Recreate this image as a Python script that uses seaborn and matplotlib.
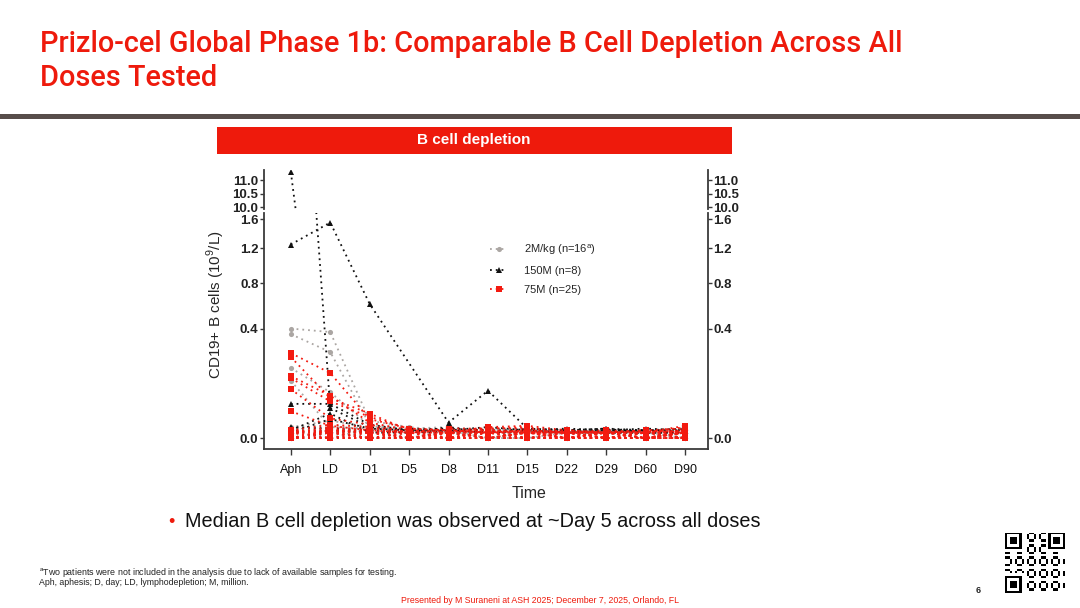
import numpy as np
import pandas as pd
import matplotlib
matplotlib.use('Agg')
import matplotlib.pyplot as plt
from matplotlib.lines import Line2D
from matplotlib.patches import Rectangle
import seaborn as sns

nan = np.nan

# time points on the x axis
timepoints = ['Aph', 'LD', 'D1', 'D5', 'D8', 'D11', 'D15', 'D22', 'D29', 'D60', 'D90']

# CD19+ B cells (10^9/L), one row per patient
dose_2mkg = [
    [0.400, 0.375, 0.010, 0.004, 0.002, 0.003, 0.002, 0.001, 0.002, 0.001, 0.002],
    [0.360, 0.247, 0.006, 0.003, 0.004, 0.002, 0.001, 0.002, 0.001, 0.002, 0.001],
    [0.164, 0.070, 0.005, 0.002, 0.001, 0.002, 0.003, 0.001, 0.003, 0.001, 0.002],
    [0.110, 0.004, 0.003, 0.002, 0.002, 0.001, 0.002, 0.001, 0.001, 0.002, 0.003],
    [0.004, 0.010, 0.004, 0.003, 0.001, 0.002, 0.001, 0.002, 0.002, 0.001, 0.001],
    [0.002, 0.004, 0.001, 0.001, 0.000, 0.001, 0.002, 0.001, 0.001, 0.000, 0.001],
    [0.000, 0.002, 0.002, 0.000, 0.001, 0.000, 0.001, 0.002, 0.001, 0.001, 0.000],
    [0.001, 0.001, 0.000, 0.001, 0.002, 0.001, 0.000, 0.001, 0.000, 0.001, 0.002],
    [0.000, 0.000, 0.001, 0.002, 0.001, 0.000, 0.001, 0.000, 0.002, 0.001, 0.001],
    [0.003, 0.006, 0.002, 0.001, 0.000, 0.002, 0.001, 0.001, 0.001, 0.002, 0.000],
    [0.001, 0.003, 0.000, 0.000, 0.001, 0.001, 0.002, 0.000, 0.001, 0.000, 0.001],
    [0.000, 0.001, 0.001, 0.000, 0.000, 0.000, 0.000, 0.001, 0.000, 0.001, 0.000],
    [0.002, 0.000, 0.003, 0.001, 0.001, 0.000, 0.001, 0.002, 0.001, 0.000, 0.001],
    [0.001, 0.002, 0.001, 0.002, 0.000, 0.001, 0.000, 0.000, 0.001, 0.001, 0.002],
    [0.000, 0.001, 0.000, 0.001, 0.001, 0.002, 0.001, 0.001, 0.000, 0.000, 0.001],
    [0.001, 0.000, 0.002, 0.000, 0.002, 0.000, 0.000, 0.001, 0.002, 0.001, 0.000],
]
dose_150m = [
    [1.250, 1.550, 0.600, nan, 0.008, 0.075, 0.003, 0.002, 0.003, 0.002, 0.002],
    [11.30, 0.030, 0.004, 0.002, 0.003, 0.002, 0.002, 0.001, 0.002, 0.003, 0.002],
    [0.039, 0.039, 0.006, 0.002, 0.001, 0.001, 0.003, 0.002, 0.001, 0.001, 0.001],
    [0.004, 0.003, 0.002, 0.001, 0.004, 0.001, 0.001, 0.002, 0.003, 0.001, 0.001],
    [0.001, 0.012, 0.003, 0.002, 0.002, 0.004, 0.002, 0.001, 0.001, 0.002, 0.003],
    [0.001, 0.002, 0.001, 0.003, 0.002, 0.001, 0.002, 0.003, 0.002, 0.001, nan],
    [0.000, 0.001, 0.002, 0.001, 0.001, 0.002, 0.001, 0.001, 0.001, 0.001, 0.001],
    [0.002, 0.020, 0.001, 0.001, 0.002, 0.001, 0.001, 0.001, 0.002, 0.002, 0.001],
]
dose_75m = [
    [0.241, 0.141, 0.012, 0.003, 0.002, 0.001, 0.002, 0.001, 0.001, 0.002, 0.003],
    [0.219, 0.053, 0.020, 0.002, 0.001, 0.002, 0.001, 0.002, 0.001, 0.001, 0.002],
    [0.128, 0.060, 0.008, 0.002, 0.001, 0.004, 0.005, 0.002, 0.001, 0.001, 0.001],
    [0.120, 0.045, 0.015, 0.003, 0.002, 0.002, 0.001, 0.001, 0.002, 0.001, 0.004],
    [0.080, 0.013, 0.006, 0.001, 0.001, 0.001, 0.002, 0.001, 0.001, 0.002, 0.001],
    [0.024, 0.005, 0.002, 0.001, 0.002, 0.001, 0.001, 0.001, 0.001, 0.001, 0.001],
    [0.001, 0.004, 0.002, 0.000, 0.001, 0.003, 0.004, 0.001, 0.000, 0.001, 0.002],
    [0.000, 0.002, 0.001, 0.001, 0.000, 0.001, 0.001, 0.000, 0.001, 0.000, 0.001],
    [0.002, 0.006, 0.004, 0.001, 0.003, 0.003, 0.003, 0.001, 0.001, 0.001, 0.005],
    [0.000, 0.001, 0.000, 0.000, 0.001, 0.000, 0.000, 0.001, 0.000, 0.001, 0.000],
    [0.001, 0.003, 0.001, 0.002, 0.000, 0.001, 0.002, 0.000, 0.001, 0.000, 0.001],
    [0.000, 0.000, 0.001, 0.000, 0.001, 0.000, 0.000, 0.000, 0.000, 0.000, 0.000],
    [0.001, 0.002, 0.002, 0.001, 0.000, 0.002, 0.001, 0.001, 0.000, 0.001, 0.001],
    [0.002, 0.001, 0.000, 0.000, 0.001, 0.001, 0.000, 0.000, 0.001, 0.000, 0.000],
    [0.000, 0.001, 0.001, 0.001, 0.000, 0.000, 0.001, 0.001, 0.000, 0.001, 0.001],
    [0.001, 0.000, 0.000, 0.000, 0.000, 0.001, 0.000, 0.000, 0.000, 0.000, 0.002],
    [0.000, 0.002, 0.001, 0.000, 0.001, 0.000, 0.001, 0.000, 0.001, 0.000, 0.000],
    [0.001, 0.001, 0.003, 0.001, 0.000, 0.000, 0.000, 0.001, 0.000, 0.000, 0.001],
    [0.000, 0.000, 0.000, 0.001, 0.000, 0.001, 0.000, 0.000, 0.000, 0.001, 0.000],
    [0.002, 0.001, 0.001, 0.000, 0.001, 0.000, 0.001, 0.000, 0.001, 0.000, 0.001],
    [0.000, 0.001, 0.000, 0.000, 0.000, 0.000, 0.000, 0.001, 0.000, 0.000, 0.000],
    [0.001, 0.000, 0.001, 0.000, 0.000, 0.001, 0.000, 0.000, 0.000, 0.000, 0.001],
    [0.000, 0.000, 0.000, 0.000, 0.001, 0.000, 0.000, 0.000, 0.000, 0.000, 0.000],
    [0.001, 0.001, 0.000, 0.001, 0.000, 0.000, 0.000, 0.000, 0.001, 0.001, 0.000],
    [0.000, 0.000, 0.000, 0.000, 0.000, 0.000, 0.001, 0.000, 0.000, 0.000, 0.001],
]

dose_names = ['2M/kg', '150M', '75M']
legend_labels = [r'2M/kg (n=16$^{\mathregular{a}}$)', '150M (n=8)', '75M (n=25)']
yticks_low = [0.0, 0.4, 0.8, 1.2, 1.6]
yticks_high = [10.0, 10.5, 11.0]

W, H = 1080, 608
RED = '#EE1A0C'


def fx(x):
    return x / W


def fy(y):
    return 1 - y / H


# long-form table for seaborn
rows = []
for dose, group in zip(dose_names, [dose_2mkg, dose_150m, dose_75m]):
    for i, patient in enumerate(group):
        for t, v in enumerate(patient):
            if not np.isnan(v):
                rows.append({'dose': dose, 'pid': f'{dose}-{i}', 't': t, 'value': v})
df = pd.DataFrame(rows)

sns.set_style('white')
plt.rcParams['font.family'] = ['Liberation Sans', 'DejaVu Sans']

fig = plt.figure(figsize=(10.8, 6.08), dpi=100)

# header
fig.text(fx(40), fy(52), 'Prizlo-cel Global Phase 1b: Comparable B Cell Depletion Across All',
         color=RED, fontsize=20.75, family='Roboto', weight='medium', va='baseline')
fig.text(fx(40), fy(86), 'Doses Tested',
         color=RED, fontsize=20.75, family='Roboto', weight='medium', va='baseline')
fig.add_artist(Rectangle((0, fy(119)), 1, 5 / H, transform=fig.transFigure,
                         color='#574D4A', lw=0))
fig.add_artist(Rectangle((fx(217), fy(154)), fx(732) - fx(217), 27 / H,
                         transform=fig.transFigure, color=RED, lw=0))
fig.text(fx(474), fy(140), 'B cell depletion', color='white', fontsize=11,
         weight='bold', ha='center', va='center')

# broken y axis: upper panel linear, lower panel square-root
ax_hi = fig.add_axes([fx(264), fy(209), fx(708) - fx(264), (209 - 170) / H])
ax_lo = fig.add_axes([fx(264), fy(449), fx(708) - fx(264), (449 - 213) / H])


def ssqrt(v):
    return np.sign(v) * np.sqrt(np.abs(v))


def ssq(v):
    return np.sign(v) * v ** 2


ax_lo.set_yscale('function', functions=(ssqrt, ssq))

palette = {'2M/kg': '#ABA6A3', '150M': '#111111', '75M': '#F31A10'}
markers = {'2M/kg': 'o', '150M': '^', '75M': 's'}
dashes = {k: (1, 2.2) for k in dose_names}

for ax in (ax_hi, ax_lo):
    sns.lineplot(data=df, x='t', y='value', hue='dose', style='dose', units='pid',
                 estimator=None, hue_order=dose_names, style_order=dose_names,
                 palette=palette, markers=markers, dashes=dashes,
                 markersize=3.7, markeredgewidth=0, linewidth=1.3,
                 legend=False, ax=ax)
    ax.set_xlim(-0.68, 10.58)
    ax.set_xlabel('')
    ax.set_ylabel('')
    for side in ['left', 'right', 'bottom']:
        ax.spines[side].set_color('#3a3a3a')
        ax.spines[side].set_linewidth(1.3)
    ax.spines['top'].set_visible(False)
    ax.tick_params(axis='y', left=True, right=True, labelleft=True, labelright=True,
                   direction='out', length=3, width=1, color='#3a3a3a', pad=1,
                   labelsize=9.5, labelcolor='#222222')

ax_hi.set_ylim(9.93, 11.37)
ax_hi.set_yticks(yticks_high)
ax_hi.set_yticklabels([f'{v:.1f}' for v in yticks_high], fontweight='bold')
ax_hi.spines['bottom'].set_visible(False)
ax_hi.set_xticks([])

ax_lo.set_ylim(-0.004, 1.69)
ax_lo.set_yticks(yticks_low)
ax_lo.set_yticklabels([f'{v:.1f}' for v in yticks_low], fontweight='bold')
ax_lo.set_xticks(range(len(timepoints)))
ax_lo.set_xticklabels(timepoints)
ax_lo.tick_params(axis='x', bottom=True, direction='out', length=4, width=1,
                  color='#3a3a3a', labelsize=9, pad=7, labelcolor='#111111')

fig.text(fx(216), fy(305), r'CD19+ B cells (10$^{\mathregular{9}}$/L)', rotation=90,
         fontsize=11, ha='center', va='center')
fig.text(fx(529), fy(494), 'Time', fontsize=11.5, ha='center', va='center')

handles = [Line2D([], [], color=palette[d], marker=markers[d], markersize=3.7,
                  markeredgewidth=0, linestyle=(0, (1, 2.2)), linewidth=1.3)
           for d in dose_names]
fig.legend(handles, legend_labels, loc='upper left', bbox_to_anchor=(fx(486), fy(238)),
           frameon=False, fontsize=8, handlelength=1.5, handletextpad=1.5,
           labelspacing=0.8, borderaxespad=0)

# bullet and footnotes
fig.text(fx(168), fy(527), '\u2022', color=RED, fontsize=13, va='baseline')
fig.text(fx(185), fy(527), 'Median B cell depletion was observed at ~Day 5 across all doses',
         fontsize=14.3, va='baseline', color='#111111')
fig.text(fx(39), fy(575), r'$^{\mathregular{a}}$Two patients were not included in the analysis due to lack of available samples for testing.',
         fontsize=6.4, va='baseline', color='#222222')
fig.text(fx(39), fy(585), 'Aph, aphesis; D, day; LD, lymphodepletion; M, million.',
         fontsize=6.3, va='baseline', color='#222222')
fig.text(fx(540), fy(603), 'Presented by M Suraneni at ASH 2025; December 7, 2025, Orlando, FL',
         fontsize=6.35, va='baseline', ha='center', color=RED)
fig.text(fx(978), fy(593), '6', fontsize=6.5, weight='bold', va='baseline', ha='center')

# QR code placeholder (decorative)
n = 25
ii, jj = np.meshgrid(np.arange(n), np.arange(n), indexing='ij')
qr = (((ii * 7 + jj * 11 + ii * jj) % 5) < 2).astype(float)
finder = np.ones((7, 7))
finder[1:6, 1:6] = 0
finder[2:5, 2:5] = 1
for r0, c0 in [(0, 0), (0, n - 7), (n - 7, 0)]:
    qr[max(r0 - 1, 0):r0 + 8, max(c0 - 1, 0):c0 + 8] = 0
    qr[r0:r0 + 7, c0:c0 + 7] = finder
ax_qr = fig.add_axes([fx(1005), fy(593), 60 / W, 60 / H])
ax_qr.imshow(qr, cmap='gray_r', interpolation='nearest')
ax_qr.axis('off')

fig.savefig('out.png', dpi=100)
